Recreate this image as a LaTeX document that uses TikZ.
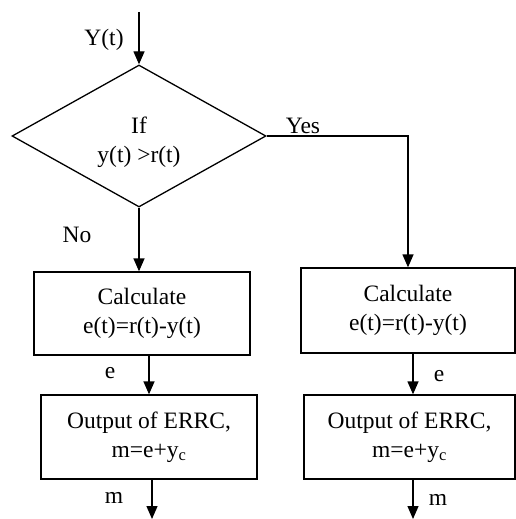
\documentclass[tikz,border=0pt]{standalone}
\usepackage{fontspec}
\setmainfont{Liberation Serif}
\usetikzlibrary{shapes.geometric,arrows.meta,calc}
\begin{document}
\begin{tikzpicture}[x=1pt,y=-1pt,
  every node/.style={font=\fontsize{23.5}{29}\selectfont},
  line/.style={line width=1.3pt},
  arr/.style={line width=1.3pt,-{Triangle[length=13pt,width=11pt]}},
  box/.style={draw,line width=1.3pt,align=center,inner sep=0pt},
  dec/.style={draw,line width=1.3pt,shape=diamond,aspect=1.8,inner sep=0pt,align=center,minimum width=254pt,minimum height=142pt},
  lbl/.style={inner sep=0pt}]
\useasboundingbox[fill=white] (0,0) rectangle (516,519);
% decision
\node[dec] (d) at (139,136) {};
\node[lbl,align=center] (dt) at (139,142) {If\\y(t) >r(t)};
% boxes
\node[box,minimum width=216pt,minimum height=83pt] (lb1) at (142,313.5) {Calculate\\e(t)=r(t)-y(t)};
\node[box,minimum width=216pt,minimum height=84pt] (lb2) at (149,437) {Output of ERRC,\\m=e+y\textsubscript{c}};
\node[box,minimum width=214pt,minimum height=85pt] (rb1) at (408,310.5) {Calculate\\e(t)=r(t)-y(t)};
\node[box,minimum width=211pt,minimum height=84pt] (rb2) at (409.5,437) {Output of ERRC,\\m=e+y\textsubscript{c}};
% free ends
\coordinate (top) at (139,12);
\coordinate (lend) at (152,519);
\coordinate (rend) at (413,519);
% connectors
\draw[arr] (top) -- (d.north);
\draw[arr] (d.east) -| (rb1.north);
\draw[arr] (d.south) -- (d.south |- lb1.north);
\draw[arr] (lb2.north |- lb1.south) -- (lb2.north);
\draw[arr] (lend |- lb2.south) -- (lend);
\draw[arr] (rend |- rb1.south) -- (rend |- rb2.north);
\draw[arr] (rend |- rb2.south) -- (rend);
% labels
\node[lbl] (ly) at (104,40) {Y(t)};
\node[lbl] (lyes) at (303,126) {Yes};
\node[lbl] (lno) at (77,235) {No};
\node[lbl] (le1) at (110,373) {e};
\node[lbl] (lm1) at (114,498) {m};
\node[lbl] (le2) at (439,376) {e};
\node[lbl] (lm2) at (438,500) {m};
\end{tikzpicture}
\end{document}
